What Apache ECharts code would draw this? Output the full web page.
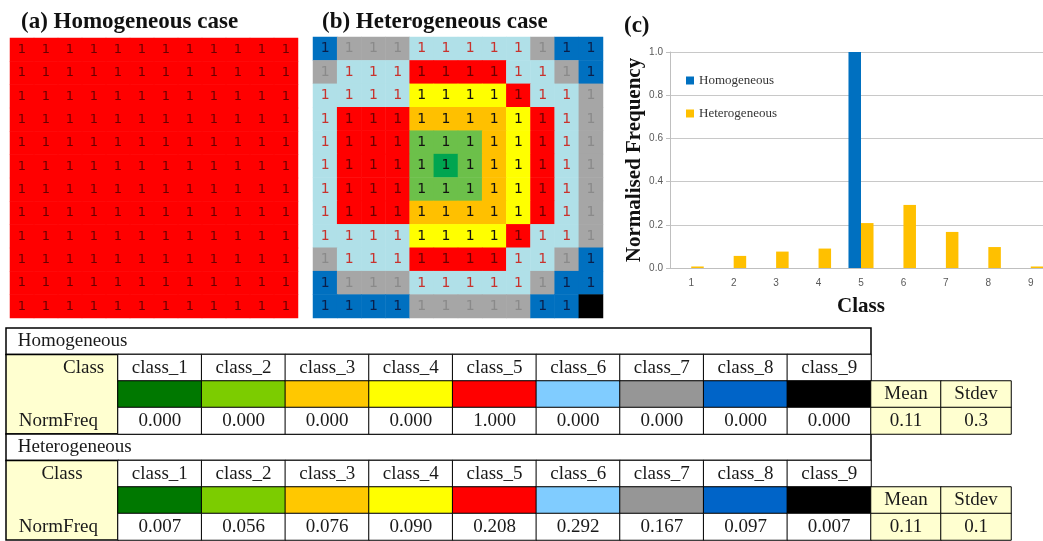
<!DOCTYPE html>
<html>
<head>
    <meta charset="utf-8">
    <title>class maps</title>
    <script src="https://cdn.jsdelivr.net/npm/echarts@6.0.0/dist/echarts.min.js"></script>
    <style>
        html, body { margin: 0; padding: 0; background: #fff; }
        #chart { width: 1043px; height: 541px; }
    </style>
</head>
<body>
<div id="chart"></div>
<script>
    // class names and colours (table swatches and map cells)
    var classNames = ['class_1', 'class_2', 'class_3', 'class_4', 'class_5', 'class_6', 'class_7', 'class_8', 'class_9'];
    var tableColors = ['#007800', '#7ccc00', '#ffc800', '#ffff00', '#ff0000', '#80ccff', '#969696', '#0064c8', '#000000'];
    var mapColors = ['#00a550', '#6cc04a', '#ffc000', '#ffff00', '#ff0000', '#b0e0e8', '#a6a6a6', '#0070c0', '#000000'];
    var mapLabelColors = ['#111111', '#111111', '#111111', '#111111', '#6b0000', '#c8322d', '#8a8a8a', '#0a1f4a', '#000000'];

    // bar chart
    var barCategories = ['1', '2', '3', '4', '5', '6', '7', '8', '9'];
    var homFreq = [0.000, 0.000, 0.000, 0.000, 1.000, 0.000, 0.000, 0.000, 0.000];
    var hetFreq = [0.007, 0.056, 0.076, 0.090, 0.208, 0.292, 0.167, 0.097, 0.007];

    // table stats
    var statNames = ['Mean', 'Stdev'];
    var homStats = ['0.11', '0.3'];
    var hetStats = ['0.11', '0.1'];

    // class of each map cell, row by row from the top
    var homMap = [
        [5, 5, 5, 5, 5, 5, 5, 5, 5, 5, 5, 5],
        [5, 5, 5, 5, 5, 5, 5, 5, 5, 5, 5, 5],
        [5, 5, 5, 5, 5, 5, 5, 5, 5, 5, 5, 5],
        [5, 5, 5, 5, 5, 5, 5, 5, 5, 5, 5, 5],
        [5, 5, 5, 5, 5, 5, 5, 5, 5, 5, 5, 5],
        [5, 5, 5, 5, 5, 5, 5, 5, 5, 5, 5, 5],
        [5, 5, 5, 5, 5, 5, 5, 5, 5, 5, 5, 5],
        [5, 5, 5, 5, 5, 5, 5, 5, 5, 5, 5, 5],
        [5, 5, 5, 5, 5, 5, 5, 5, 5, 5, 5, 5],
        [5, 5, 5, 5, 5, 5, 5, 5, 5, 5, 5, 5],
        [5, 5, 5, 5, 5, 5, 5, 5, 5, 5, 5, 5],
        [5, 5, 5, 5, 5, 5, 5, 5, 5, 5, 5, 5]
    ];
    var hetMap = [
        [8, 7, 7, 7, 6, 6, 6, 6, 6, 7, 8, 8],
        [7, 6, 6, 6, 5, 5, 5, 5, 6, 6, 7, 8],
        [6, 6, 6, 6, 4, 4, 4, 4, 5, 6, 6, 7],
        [6, 5, 5, 5, 3, 3, 3, 3, 4, 5, 6, 7],
        [6, 5, 5, 5, 2, 2, 2, 3, 4, 5, 6, 7],
        [6, 5, 5, 5, 2, 1, 2, 3, 4, 5, 6, 7],
        [6, 5, 5, 5, 2, 2, 2, 3, 4, 5, 6, 7],
        [6, 5, 5, 5, 3, 3, 3, 3, 4, 5, 6, 7],
        [6, 6, 6, 6, 4, 4, 4, 4, 5, 6, 6, 7],
        [7, 6, 6, 6, 5, 5, 5, 5, 6, 6, 7, 8],
        [8, 7, 7, 7, 6, 6, 6, 6, 6, 7, 8, 8],
        [8, 8, 8, 8, 7, 7, 7, 7, 7, 8, 8, 9]
    ];

    var serif = 'Liberation Serif';
    var grids = [], xAxes = [], yAxes = [], series = [];

    function idx(n) {
        var a = [];
        for (var i = 0; i < n; i++) a.push(String(i));
        return a;
    }

    // grid with hidden category axes, used for the maps and the table
    function addGrid(g, nx, ny) {
        var i = grids.length;
        g.outerBoundsMode = 'none';
        grids.push(g);
        xAxes.push({ type: 'category', gridIndex: i, data: idx(nx), show: false });
        yAxes.push({ type: 'category', gridIndex: i, data: idx(ny), inverse: true, show: false });
        return i;
    }

    function addCells(gi, data, fontSize, fontFamily) {
        series.push({
            type: 'heatmap',
            xAxisIndex: gi,
            yAxisIndex: gi,
            data: data,
            emphasis: { disabled: true },
            label: { show: true, formatter: '{b}', fontSize: fontSize, fontFamily: fontFamily, color: '#1a1a1a' }
        });
    }

    function mapCells(map) {
        var out = [];
        map.forEach(function(row, r) {
            row.forEach(function(c, x) {
                out.push({
                    name: '1',
                    value: [x, r, c],
                    itemStyle: { color: mapColors[c - 1] },
                    label: { color: mapLabelColors[c - 1] }
                });
            });
        });
        return out;
    }

    // (a) and (b) maps
    addCells(addGrid({ left: 10, top: 38, width: 288, height: 280 }, 12, 12), mapCells(homMap), 13, 'DejaVu Sans');
    addCells(addGrid({ left: 313, top: 37, width: 290, height: 281 }, 12, 12), mapCells(hetMap), 14, 'DejaVu Sans');

    // (c) bar chart
    var gc = grids.length;
    grids.push({ left: 670, top: 52, width: 382, height: 216, outerBoundsMode: 'none' });
    xAxes.push({
        type: 'category', gridIndex: gc, data: barCategories,
        axisLine: { lineStyle: { color: '#bfbfbf' } },
        axisTick: { length: 5, lineStyle: { color: '#bfbfbf' } },
        axisLabel: { color: '#595959', fontSize: 10, margin: 10, fontFamily: 'Liberation Sans' },
        name: 'Class', nameLocation: 'middle', nameGap: 28,
        nameTextStyle: { fontFamily: serif, fontWeight: 'bold', fontSize: 21, color: '#111' }
    });
    yAxes.push({
        type: 'value', gridIndex: gc, min: 0, max: 1, interval: 0.2,
        axisLine: { show: true, lineStyle: { color: '#bfbfbf' } },
        axisTick: { show: true, length: 4, lineStyle: { color: '#bfbfbf' } },
        splitLine: { show: true, lineStyle: { color: '#c8c8c8' } },
        axisLabel: {
            color: '#595959', fontSize: 10, margin: 7, fontFamily: 'Liberation Sans',
            formatter: function(v) { return v.toFixed(1); }
        },
        name: 'Normalised Frequency', nameLocation: 'middle', nameGap: 23,
        nameTextStyle: { fontFamily: serif, fontWeight: 'bold', fontSize: 21, color: '#111' }
    });
    series.push({
        type: 'bar', name: 'Homogeneous', xAxisIndex: gc, yAxisIndex: gc, data: homFreq,
        barGap: '0%', barCategoryGap: '41%', itemStyle: { color: '#0070c0' }
    });
    series.push({
        type: 'bar', name: 'Heterogeneous', xAxisIndex: gc, yAxisIndex: gc, data: hetFreq,
        barGap: '0%', barCategoryGap: '41%', itemStyle: { color: '#ffc000' }
    });

    // table blocks
    var rowH = 26.5;
    var yellow = '#ffffd0';
    var fs = 19;
    function addTable(top, title, freq, stats, classPos) {
        var clear = { color: 'rgba(0,0,0,0)' };
        var g = addGrid({ left: 6, top: top, width: 865, height: rowH, show: true,
            backgroundColor: '#fff', borderColor: '#000', borderWidth: 1.5 }, 1, 1);
        addCells(g, [{ name: title, value: [0, 0, 1], itemStyle: clear,
            label: { position: 'insideLeft', distance: 12 } }], fs, serif);

        g = addGrid({ left: 6, top: top + rowH, width: 112, height: rowH * 3, show: true,
            backgroundColor: yellow, borderColor: '#000', borderWidth: 1.5 }, 1, 3);
        addCells(g, [
            { name: 'Class', value: [0, 0, 1], itemStyle: clear, label: classPos },
            { name: '', value: [0, 1, 1], itemStyle: clear },
            { name: 'NormFreq', value: [0, 2, 1], itemStyle: clear, label: { position: 'insideLeft', distance: 13 } }
        ], fs, serif);

        var cells = [];
        var border = { borderColor: '#000', borderWidth: 1 };
        classNames.forEach(function(c, i) {
            cells.push({ name: c, value: [i, 0, 1], itemStyle: Object.assign({ color: '#fff' }, border) });
            cells.push({ name: '', value: [i, 1, 1], itemStyle: Object.assign({ color: tableColors[i] }, border) });
            cells.push({ name: freq[i].toFixed(3), value: [i, 2, 1], itemStyle: Object.assign({ color: '#fff' }, border) });
        });
        addCells(addGrid({ left: 118, top: top + rowH, width: 753, height: rowH * 3 }, 9, 3), cells, fs, serif);

        var st = [];
        statNames.forEach(function(s, i) {
            st.push({ name: s, value: [i, 0, 1], itemStyle: Object.assign({ color: yellow }, border) });
            st.push({ name: stats[i], value: [i, 1, 1], itemStyle: Object.assign({ color: yellow }, border) });
        });
        addCells(addGrid({ left: 871, top: top + rowH * 2, width: 140, height: rowH * 2 }, 2, 2), st, fs, serif);
    }
    addTable(328, 'Homogeneous', homFreq, homStats, { position: 'insideRight', distance: 14 });
    addTable(434, 'Heterogeneous', hetFreq, hetStats, { position: 'inside' });

    var titleStyle = { fontFamily: serif, fontWeight: 'bold', fontSize: 23, color: '#111' };
    var option = {
        animation: false,
        backgroundColor: '#fff',
        title: [
            { text: '(a) Homogeneous case', left: 21, top: 11, padding: 0, textStyle: titleStyle },
            { text: '(b) Heterogeneous case', left: 322, top: 11, padding: 0, textStyle: titleStyle },
            { text: '(c)', left: 624, top: 15, padding: 0, textStyle: titleStyle }
        ],
        legend: {
            orient: 'vertical', left: 686, top: 74, itemWidth: 8, itemHeight: 8, itemGap: 20,
            icon: 'rect', padding: 0,
            data: ['Homogeneous', 'Heterogeneous'],
            textStyle: { fontFamily: serif, fontSize: 13, color: '#333' }
        },
        grid: grids,
        xAxis: xAxes,
        yAxis: yAxes,
        series: series
    };

    var chart = echarts.init(document.getElementById('chart'));
    chart.setOption(option);
</script>
</body>
</html>
